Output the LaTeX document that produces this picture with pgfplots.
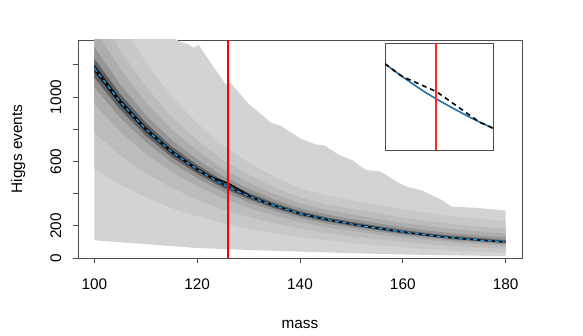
\documentclass[border=0pt]{standalone}
\usepackage{pgfplots}
\usepackage{pgfplotstable}
\pgfplotsset{compat=1.18}
\usepgfplotslibrary{fillbetween}
\usepackage{fontspec}
\setmainfont{Liberation Sans}

\definecolor{g1}{HTML}{D3D3D3}
\definecolor{g2}{HTML}{C8C8C8}
\definecolor{g3}{HTML}{BCBCBC}
\definecolor{g4}{HTML}{ADADAD}
\definecolor{g5}{HTML}{959595}
\definecolor{g6}{HTML}{626262}
\definecolor{g7}{HTML}{222222}
\definecolor{mainblue}{RGB}{30,150,230}
\definecolor{insetblue}{RGB}{35,112,168}
\definecolor{boxgray}{HTML}{4D4D4D}

% quantile bands around the expected curve
\pgfplotstableread{
m   c    u2   l2   u3   l3   u4   l4   u5   l5   u6   l6   u7   l7
100 1178 1791 554  1567 777  1425 954  1308 1060 1237 1119 1202 1154
105 970  1474 456  1290 640  1174 786  1077 873  1019 922  989  951
110 800  1216 376  1064 528  968  648  888  720  840  760  816  784
115 660  1003 310  878  436  799  535  733  594  693  627  673  647
120 550  836  259  732  363  666  446  611  495  578  523  561  539
125 458  696  215  609  302  554  371  508  412  481  435  467  449
130 385  591  181  516  254  468  312  429  347  405  366  393  377
135 325  504  153  439  215  397  263  363  293  342  309  332  319
140 276  434  130  376  182  340  224  309  248  291  262  282  270
145 240  390  109  335  156  300  193  272  215  254  228  246  235
150 211  359  92   305  135  271  169  242  189  225  200  217  207
155 185  329  78   277  116  243  147  216  165  199  175  191  181
160 161  303  65   251  100  218  127  191  143  175  152  166  157
165 141  280  55   229  86   197  110  170  125  154  133  146  138
170 124  259  46   210  74   179  96   153  109  137  117  129  121
175 111  244  39   195  65   165  85   139  97   124  104  116  108
180 99   228  33   181  57   151  76   126  87   111  93   104  97
}\bands

\pgfplotstableread{
m y
100 1900
105 1750
110 1600
114 1400
116.5 1345
118.4 1325
119.2 1305
120.3 1323
123 1195
125.6 1076
126.5 1087
130 957
134.4 840
136.3 820
140.2 740
143 706
144.7 700
147.6 640
150.1 609
152.8 547
155.7 536
159.2 466
161.2 439
163.7 420
167.6 360
169.5 319
174.2 312
180 294
}\outerup

\pgfplotstableread{
m y
100 110
110 86
120 62
130 50
140 40
150 30
160 22
170 16
180 12
}\outerlo

\pgfplotstableread{
m y
100 1178
105 970
110 800
115 660
120 550
121 530.5
122 511.5
123 493
124 475
125 458
126 442.5
127 427.5
128 413
129 399
130 385
131 372
132 360
133 348
134 336
135 325
140 276
145 240
150 211
155 185
160 161
165 141
170 124
175 111
180 99
}\expected

\pgfplotstableread{
m y
100 1178
105 970
110 800
115 660
120 550
121 530.5
122 511.5
123 499.9
124 488.3
125 476.6
126 465
127 446.4
128 427.8
129 409.2
130 390.6
131 372
132 360
133 348
134 336
135 325
140 276
145 240
150 211
155 185
160 161
165 141
170 124
175 111
180 99
}\observed

\begin{document}
\begin{tikzpicture}
\begin{axis}[
    at={(58.5pt,58.5pt)}, anchor=south west,
    width=333pt, height=163.5pt, scale only axis,
    xmin=96.8, xmax=183.2, ymin=0, ymax=1354,
    xtick={100,120,...,180},
    ytick={0,200,...,1200},
    yticklabels={0,200,,600,,1000,},
    tick pos=left, tick align=outside,
    major tick length=4pt,
    axis line style={boxgray, line width=0.7pt},
    every tick/.style={boxgray, line width=0.7pt},
    /pgf/number format/assume math mode=true,
    tick label style={font=\fontsize{11.5}{13}\selectfont},
    xticklabel shift=8pt,
    yticklabel style={rotate=90, anchor=south},
    yticklabel shift=5pt,
    xlabel={mass}, ylabel={Higgs events},
    label style={font=\fontsize{11.5}{13}\selectfont},
    xlabel style={at={(axis description cs:0.5,-0.307)}, anchor=center},
    ylabel style={at={(axis description cs:-0.135,0.5)}, anchor=center},
]
\addplot[draw=none, name path=ou] table[x=m, y=y] {\outerup};
\addplot[draw=none, name path=ol] table[x=m, y=y] {\outerlo};
\addplot[fill=g1, draw=none] fill between[of=ou and ol];

\addplot[draw=none, name path=u2] table[x=m, y=u2] {\bands};
\addplot[draw=none, name path=l2] table[x=m, y=l2] {\bands};
\addplot[fill=g2, draw=none] fill between[of=u2 and l2];

\addplot[draw=none, name path=u3] table[x=m, y=u3] {\bands};
\addplot[draw=none, name path=l3] table[x=m, y=l3] {\bands};
\addplot[fill=g3, draw=none] fill between[of=u3 and l3];

\addplot[draw=none, name path=u4] table[x=m, y=u4] {\bands};
\addplot[draw=none, name path=l4] table[x=m, y=l4] {\bands};
\addplot[fill=g4, draw=none] fill between[of=u4 and l4];

\addplot[draw=none, name path=u5] table[x=m, y=u5] {\bands};
\addplot[draw=none, name path=l5] table[x=m, y=l5] {\bands};
\addplot[fill=g5, draw=none] fill between[of=u5 and l5];

\addplot[draw=none, name path=u6] table[x=m, y=u6] {\bands};
\addplot[draw=none, name path=l6] table[x=m, y=l6] {\bands};
\addplot[fill=g6, draw=none] fill between[of=u6 and l6];

\addplot[draw=none, name path=u7] table[x=m, y=u7] {\bands};
\addplot[draw=none, name path=l7] table[x=m, y=l7] {\bands};
\addplot[fill=g7, draw=none] fill between[of=u7 and l7];

\addplot[black, line width=1pt, mark=none] table[x=m, y=y] {\observed};
\addplot[mainblue, line width=1pt, dash pattern=on 3pt off 2.5pt, mark=none] table[x=m, y=y] {\expected};
\addplot[red, line width=1.2pt, mark=none] coordinates {(126,0) (126,1354)};
\end{axis}

\begin{axis}[
    at={(288.75pt,139.5pt)}, anchor=south west,
    width=81pt, height=80.25pt, scale only axis,
    xmin=120, xmax=132.6, ymin=286, ymax=614,
    ticks=none,
    axis background/.style={fill=white},
    axis line style={boxgray, line width=0.7pt},
]
\addplot[insetblue, line width=1.2pt, mark=none] table[x=m, y=y] {\expected};
\addplot[black, line width=1.2pt, dash pattern=on 3.5pt off 3pt, mark=none] table[x=m, y=y] {\observed};
\addplot[red!85!white, line width=1.5pt, mark=none] coordinates {(126,286) (126,614)};
\end{axis}
\pgfresetboundingbox
\path[use as bounding box] (0,0) rectangle (437.25pt,252pt);
\end{tikzpicture}
\end{document}
